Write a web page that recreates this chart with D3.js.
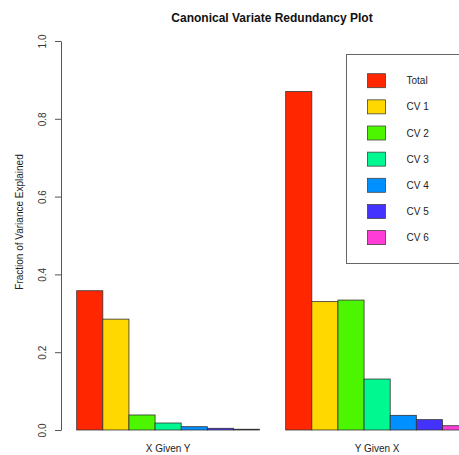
<!DOCTYPE html>
<html>
<head>
<meta charset="utf-8">
<script src="https://cdn.jsdelivr.net/npm/d3@7"></script>
<style>
  html, body { margin: 0; padding: 0; background: #fff; }
  svg { display: block; font-family: "Liberation Sans", Arial, Helvetica, sans-serif; }
</style>
</head>
<body>
<svg id="chart" width="459" height="455"></svg>
<script>
// Redundancy values: total and per canonical variate, for each direction
const groups = ["X Given Y", "Y Given X"];
const series = ["Total", "CV 1", "CV 2", "CV 3", "CV 4", "CV 5", "CV 6"];
const xGivenY = [0.358, 0.285, 0.0386, 0.018, 0.0085, 0.0044, 0.002];
const yGivenX = [0.870, 0.330, 0.334, 0.131, 0.0377, 0.0266, 0.011];
const colors = ["#FF2600", "#FFD800", "#4CF600", "#00F890", "#0090FF", "#4433FF", "#FF3CD8"];
const yTicks = [0, 0.2, 0.4, 0.6, 0.8, 1.0];

const values = [xGivenY, yGivenX];

const svg = d3.select("#chart");
const unit = 26.125;             // width of one bar
const barsLeft = 76.7;           // left edge of first bar
const barsRight = barsLeft + 15 * unit;

// Groups of seven bars separated by one bar's width
const x0 = d3.scaleBand().domain(groups).range([barsLeft, barsRight])
  .paddingInner(0.125).paddingOuter(0);
const x1 = d3.scaleBand().domain(series).range([0, x0.bandwidth()]).padding(0);
const y = d3.scaleLinear().domain([0, 1]).range([430, 41]);

// Bars
const g = svg.append("g");
groups.forEach((grp, gi) => {
  g.selectAll(null)
    .data(values[gi])
    .enter().append("rect")
    .attr("x", (d, i) => x0(grp) + x1(series[i]))
    .attr("y", d => y(d))
    .attr("width", x1.bandwidth())
    .attr("height", d => y(0) - y(d))
    .attr("fill", (d, i) => colors[i])
    .attr("stroke", "#333")
    .attr("stroke-width", 0.8);
});

// Y axis with labels parallel to the axis
const yAxis = d3.axisLeft(y).tickValues(yTicks).tickFormat(d3.format(".1f"))
  .tickSize(6).tickSizeOuter(0);
const ax = svg.append("g").attr("transform", "translate(61,0)").call(yAxis);
ax.select(".domain").attr("stroke", "#555");
ax.selectAll(".tick line").attr("stroke", "#555");
ax.selectAll(".tick text")
  .attr("x", 0).attr("dy", 0)
  .attr("transform", "translate(-15,0) rotate(-90)")
  .attr("text-anchor", "middle")
  .attr("font-size", 10)
  .attr("fill", "#333");

// Group labels under the bars
svg.selectAll(".grp-label")
  .data(groups)
  .enter().append("text")
  .attr("class", "grp-label")
  .attr("x", d => x0(d) + x0.bandwidth() / 2)
  .attr("y", 452)
  .attr("text-anchor", "middle")
  .attr("font-size", 10)
  .attr("fill", "#222")
  .text(d => d);

// Axis title
svg.append("text")
  .attr("transform", "translate(23,222) rotate(-90)")
  .attr("text-anchor", "middle")
  .attr("font-size", 10)
  .attr("fill", "#222")
  .text("Fraction of Variance Explained");

// Chart title
svg.append("text")
  .attr("x", 272)
  .attr("y", 22)
  .attr("text-anchor", "middle")
  .attr("font-size", 12)
  .attr("font-weight", "bold")
  .attr("fill", "#111")
  .text("Canonical Variate Redundancy Plot");

// Legend
const legend = svg.append("g");
legend.append("rect")
  .attr("x", 346.5).attr("y", 54.5)
  .attr("width", 140).attr("height", 209)
  .attr("fill", "none").attr("stroke", "#666").attr("stroke-width", 1);
const item = legend.selectAll(".item")
  .data(series)
  .enter().append("g")
  .attr("transform", (d, i) => `translate(0,${80.7 + i * 26.15})`);
item.append("rect")
  .attr("x", 367.5).attr("y", -7)
  .attr("width", 18).attr("height", 14)
  .attr("fill", (d, i) => colors[i])
  .attr("stroke", "#444").attr("stroke-width", 0.8);
item.append("text")
  .attr("x", 406.5).attr("y", 3.5)
  .attr("font-size", 10)
  .attr("fill", "#222")
  .text(d => d);
</script>
</body>
</html>
